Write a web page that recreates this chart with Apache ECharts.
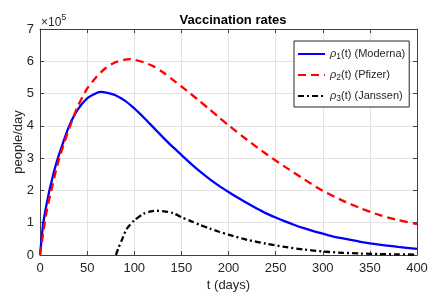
<!DOCTYPE html>
<html>
<head>
<meta charset="utf-8">
<script src="https://cdn.jsdelivr.net/npm/echarts@6/dist/echarts.min.js"></script>
<style>
html,body{margin:0;padding:0;background:#fff;}
#chart{width:435px;height:298px;}
</style>
</head>
<body>
<div id="chart"></div>
<script>
// ---- data (values in units of 10^5 people/day) ----
const titleText = 'Vaccination rates';
const xTicks = [0, 50, 100, 150, 200, 250, 300, 350, 400];
const yTicks = [0, 1, 2, 3, 4, 5, 6, 7];
const seriesNames = ['Moderna', 'Pfizer', 'Janssen'];

const daysModerna = [0,2,3.5,6,8,10,12,15,19,25,31,40,50,60,65,70,80,90,100,110,120,130,140,150,160,170,180,190,200,210,220,230,240,250,260,270,280,290,300,310,320,340,360,380,400];
const moderna     = [0,0.6,1.0,1.42,1.72,2.0,2.24,2.6,3.0,3.52,4.0,4.5,4.85,5.02,5.05,5.03,4.95,4.78,4.54,4.26,3.96,3.66,3.37,3.10,2.83,2.58,2.35,2.14,1.95,1.77,1.60,1.44,1.29,1.16,1.04,0.93,0.83,0.74,0.66,0.58,0.52,0.41,0.32,0.25,0.19];

const daysPfizer = [0,2,5,8,12,16,20,26,32,40,50,60,70,80,90,95,100,110,120,130,140,150,160,170,180,190,200,220,240,260,280,300,320,340,360,380,400];
const pfizer     = [0,0.4,1.0,1.5,2.0,2.5,2.95,3.5,4.0,4.6,5.15,5.52,5.8,5.97,6.05,6.07,6.05,5.97,5.85,5.67,5.45,5.22,4.99,4.75,4.51,4.26,4.02,3.56,3.13,2.73,2.35,1.99,1.7,1.45,1.24,1.08,0.96];

const daysJanssen = [80.6,83,86.6,92,100,110,118,124,130,141,150,160,170,180,190,200,220,240,260,280,300,320,340,360,380,400];
const janssen     = [0,0.2,0.45,0.81,1.07,1.28,1.35,1.37,1.36,1.3,1.17,1.05,0.93,0.82,0.72,0.63,0.47,0.35,0.25,0.17,0.11,0.07,0.045,0.03,0.02,0.01];

function zip(xs, ys){ return xs.map((x,i)=>[x, ys[i]]); }

const font = 'Liberation Sans';
const axisColor = '#404040';
const textColor = '#262626';
const gridColor = '#e2e2e2';

const chart = echarts.init(document.getElementById('chart'), null, {renderer:'canvas'});

function mkAxis(isX, pos, main){
  const ticks = isX ? xTicks : yTicks;
  return {
    type:'value', position:pos,
    min: ticks[0], max: ticks[ticks.length-1], interval: ticks[1]-ticks[0],
    axisLine:{show:true, onZero:false, lineStyle:{color:axisColor, width:1}},
    axisTick:{show:true, inside:true, length:4, lineStyle:{color:axisColor}},
    axisLabel:{show:main, color:textColor, fontSize:13, fontFamily:font, margin: isX ? 7 : 6},
    splitLine:{show:main, lineStyle:{color:gridColor, width:1}}
  };
}

const xMain = Object.assign(mkAxis(true,'bottom',true), {name:'t (days)', nameLocation:'middle', nameGap:24,
  nameMoveOverlap:false,
  nameTextStyle:{color:textColor, fontSize:13, fontFamily:font}});
const yMain = Object.assign(mkAxis(false,'left',true), {name:'people/day', nameLocation:'middle', nameGap:15,
  nameMoveOverlap:false,
  nameTextStyle:{color:textColor, fontSize:13, fontFamily:font}});

const legendLabels = {Moderna:1, Pfizer:2, Janssen:3};

chart.setOption({
  animation:false,
  backgroundColor:'#fff',
  title:{text:titleText, left:228, top:9, textAlign:'center',
    textStyle:{fontSize:13, fontWeight:'bold', color:'#000', fontFamily:font}},
  grid:{left:40, right:18, top:29, bottom:43, containLabel:false},
  xAxis:[xMain, mkAxis(true,'top',false)],
  yAxis:[yMain, mkAxis(false,'right',false)],
  legend:{
    orient:'vertical', left:294, top:41,
    backgroundColor:'#fff', borderColor:'#262626', borderWidth:1,
    padding:[4,4,4,3], itemGap:5, itemWidth:27, itemHeight:14,
    itemStyle:{opacity:0},
    data:seriesNames,
    formatter:function(name){
      return '{r|\u03c1}{s|' + legendLabels[name] + '}{n|(t) (' + name + ')}';
    },
    textStyle:{
      color:textColor, fontFamily:font, fontSize:11,
      rich:{
        r:{fontStyle:'italic', fontSize:11, fontFamily:font, color:textColor, lineHeight:14},
        s:{fontSize:8.5, fontFamily:font, color:textColor, lineHeight:8, padding:[7,0,0,0], verticalAlign:'bottom'},
        n:{fontSize:11, fontFamily:font, color:textColor, lineHeight:14}
      }
    }
  },
  graphic:[{
    type:'text', left:41, top:13,
    style:{
      text:'{a|\u00d710}{b|5}',
      rich:{
        a:{fontSize:12, fontFamily:font, fill:textColor, lineHeight:16, verticalAlign:'bottom'},
        b:{fontSize:9, fontFamily:font, fill:textColor, lineHeight:16, padding:[0,0,6,0], verticalAlign:'top'}
      }
    }
  }],
  series:[
    {name:'Moderna', type:'line', data:zip(daysModerna, moderna), symbol:'none', smooth:0.25,
      color:'#0000ff', lineStyle:{color:'#0000ff', width:2.3, type:'solid'}},
    {name:'Pfizer', type:'line', data:zip(daysPfizer, pfizer), symbol:'none', smooth:0.25,
      color:'#ff0000', lineStyle:{color:'#ff0000', width:2.3, type:[8,5]}},
    {name:'Janssen', type:'line', data:zip(daysJanssen, janssen), symbol:'none', smooth:0.25,
      color:'#000000', lineStyle:{color:'#000000', width:2.3, type:[6,3,2,3]}}
  ]
});
</script>
</body>
</html>
